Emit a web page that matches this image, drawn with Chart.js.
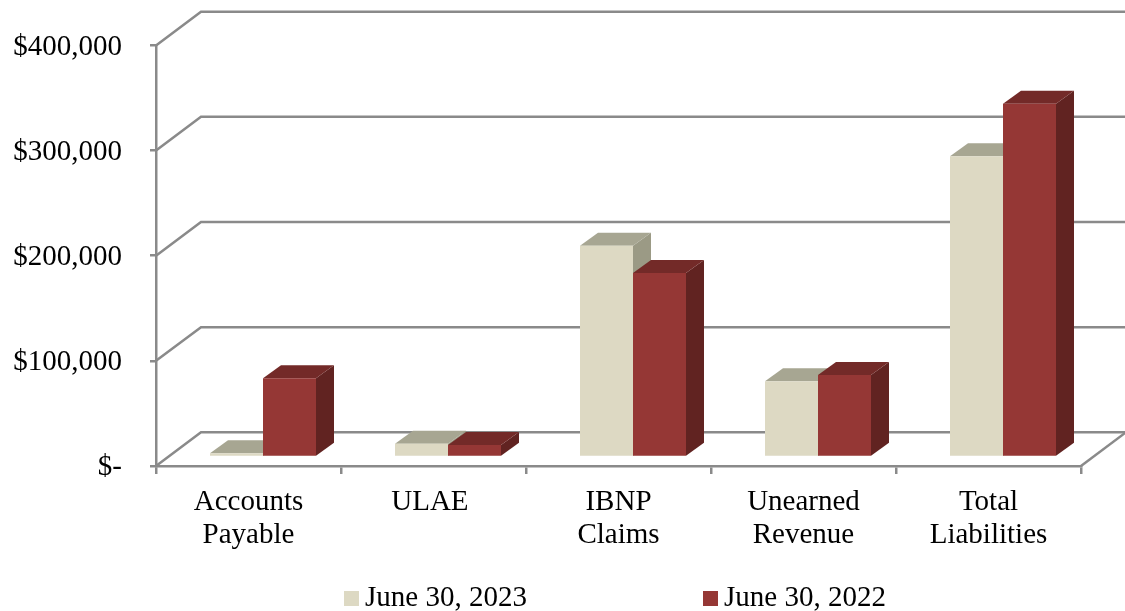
<!DOCTYPE html>
<html>
<head>
<meta charset="utf-8">
<title>Liabilities</title>
<script src="https://cdn.jsdelivr.net/npm/chart.js@4"></script>
<style>
  html, body { margin: 0; padding: 0; background: #fff; }
  canvas { display: block; }
</style>
</head>
<body>
<canvas id="liabilitiesChart" width="1125" height="611"></canvas>
<script>
const categories = [['Accounts', 'Payable'], ['ULAE '], ['IBNP', 'Claims'], ['Unearned', 'Revenue'], ['Total', 'Liabilities']];
const seriesNames = ['June 30, 2023', 'June 30, 2022'];
const values2023 = [3500, 12500, 201000, 72000, 286000];
const values2022 = [75000, 11500, 175000, 78000, 336000];
const yTicks = [0, 100000, 200000, 300000, 400000];

const fontName = '"Liberation Serif", "Times New Roman", serif';
const lineColor = '#8A8A8A';
const colors = [
  {front: '#DDD9C3', top: '#A7A692', side: '#9B9A85'},
  {front: '#953735', top: '#732A28', side: '#612321'},
];

// 奥行き (back wall) and bar offset from the front plane
const wallX = 45, wallY = -33.7;
const barShiftX = 14.5, barShiftY = -9;
const depthX = 18, depthY = -13;

function poly(ctx, points, color) {
  ctx.fillStyle = color;
  ctx.beginPath();
  points.forEach((p, i) => i ? ctx.lineTo(p[0], p[1]) : ctx.moveTo(p[0], p[1]));
  ctx.closePath();
  ctx.fill();
}

const walls = {
  id: 'walls',
  beforeDraw(chart) {
    const {ctx, chartArea, scales} = chart;
    ctx.save();
    ctx.strokeStyle = lineColor;
    ctx.lineWidth = 2.5;
    yTicks.forEach((v) => {
      const y = scales.y.getPixelForValue(v);
      ctx.beginPath();
      ctx.moveTo(chartArea.left, y);
      ctx.lineTo(chartArea.left + wallX, y + wallY);
      ctx.lineTo(chart.width + 1, y + wallY);
      ctx.stroke();
    });
    ctx.beginPath();
    ctx.moveTo(chartArea.right, chartArea.bottom);
    ctx.lineTo(chartArea.right + wallX, chartArea.bottom + wallY);
    ctx.stroke();
    ctx.restore();
  },
};

const bars3d = {
  id: 'bars3d',
  beforeDatasetsDraw(chart) {
    const ctx = chart.ctx;
    ctx.save();
    ctx.translate(barShiftX, barShiftY);
    chart.data.datasets.forEach((ds, i) => {
      chart.getDatasetMeta(i).data.forEach((bar) => {
        const l = bar.x - bar.width / 2, r = bar.x + bar.width / 2;
        const t = bar.y, b = bar.base;
        poly(ctx, [[r, t], [r + depthX, t + depthY], [r + depthX, b + depthY], [r, b]], colors[i].side);
        poly(ctx, [[l, t], [l + depthX, t + depthY], [r + depthX, t + depthY], [r, t]], colors[i].top);
      });
    });
  },
  afterDatasetsDraw(chart) {
    chart.ctx.restore();
  },
};

const bottomLegend = {
  id: 'bottomLegend',
  afterDraw(chart) {
    const ctx = chart.ctx;
    const boxX = [344, 703];
    ctx.save();
    ctx.font = '29px ' + fontName;
    ctx.textBaseline = 'middle';
    seriesNames.forEach((name, i) => {
      ctx.fillStyle = colors[i].front;
      ctx.fillRect(boxX[i], 591, 15, 15);
      ctx.fillStyle = '#000';
      ctx.fillText(name, boxX[i] + 21, 598.5);
    });
    ctx.restore();
  },
};

new Chart(document.getElementById('liabilitiesChart'), {
  type: 'bar',
  data: {
    labels: categories,
    datasets: [
      {label: seriesNames[0], data: values2023, backgroundColor: colors[0].front},
      {label: seriesNames[1], data: values2022, backgroundColor: colors[1].front},
    ],
  },
  options: {
    responsive: false,
    animation: false,
    layout: {autoPadding: false, padding: {top: 44, right: 44, bottom: 0, left: 0}},
    categoryPercentage: 0.573,
    barPercentage: 1,
    scales: {
      x: {
        afterFit(scale) { scale.height = 145; },
        border: {color: lineColor, width: 2.5},
        grid: {color: lineColor, lineWidth: 2.5, drawOnChartArea: false, tickLength: 8, offset: true},
        ticks: {color: '#000', font: {family: fontName, size: 29, lineHeight: 1.14}, padding: 12, maxRotation: 0, autoSkip: false},
      },
      y: {
        min: 0,
        max: 400000,
        afterFit(scale) { scale.width = 156; },
        afterBuildTicks(scale) { scale.ticks = yTicks.map((v) => ({value: v})); },
        border: {color: lineColor, width: 2.5},
        grid: {color: lineColor, lineWidth: 2.5, drawOnChartArea: false, tickLength: 6},
        ticks: {
          color: '#000',
          font: {family: fontName, size: 29},
          padding: 28,
          labelOffset: 1.5,
          callback: (v) => v === 0 ? '$-' : '$' + v.toLocaleString('en-US'),
        },
      },
    },
    plugins: {
      legend: {display: false},
      tooltip: {enabled: false},
    },
  },
  plugins: [walls, bars3d, bottomLegend],
});
</script>
</body>
</html>
